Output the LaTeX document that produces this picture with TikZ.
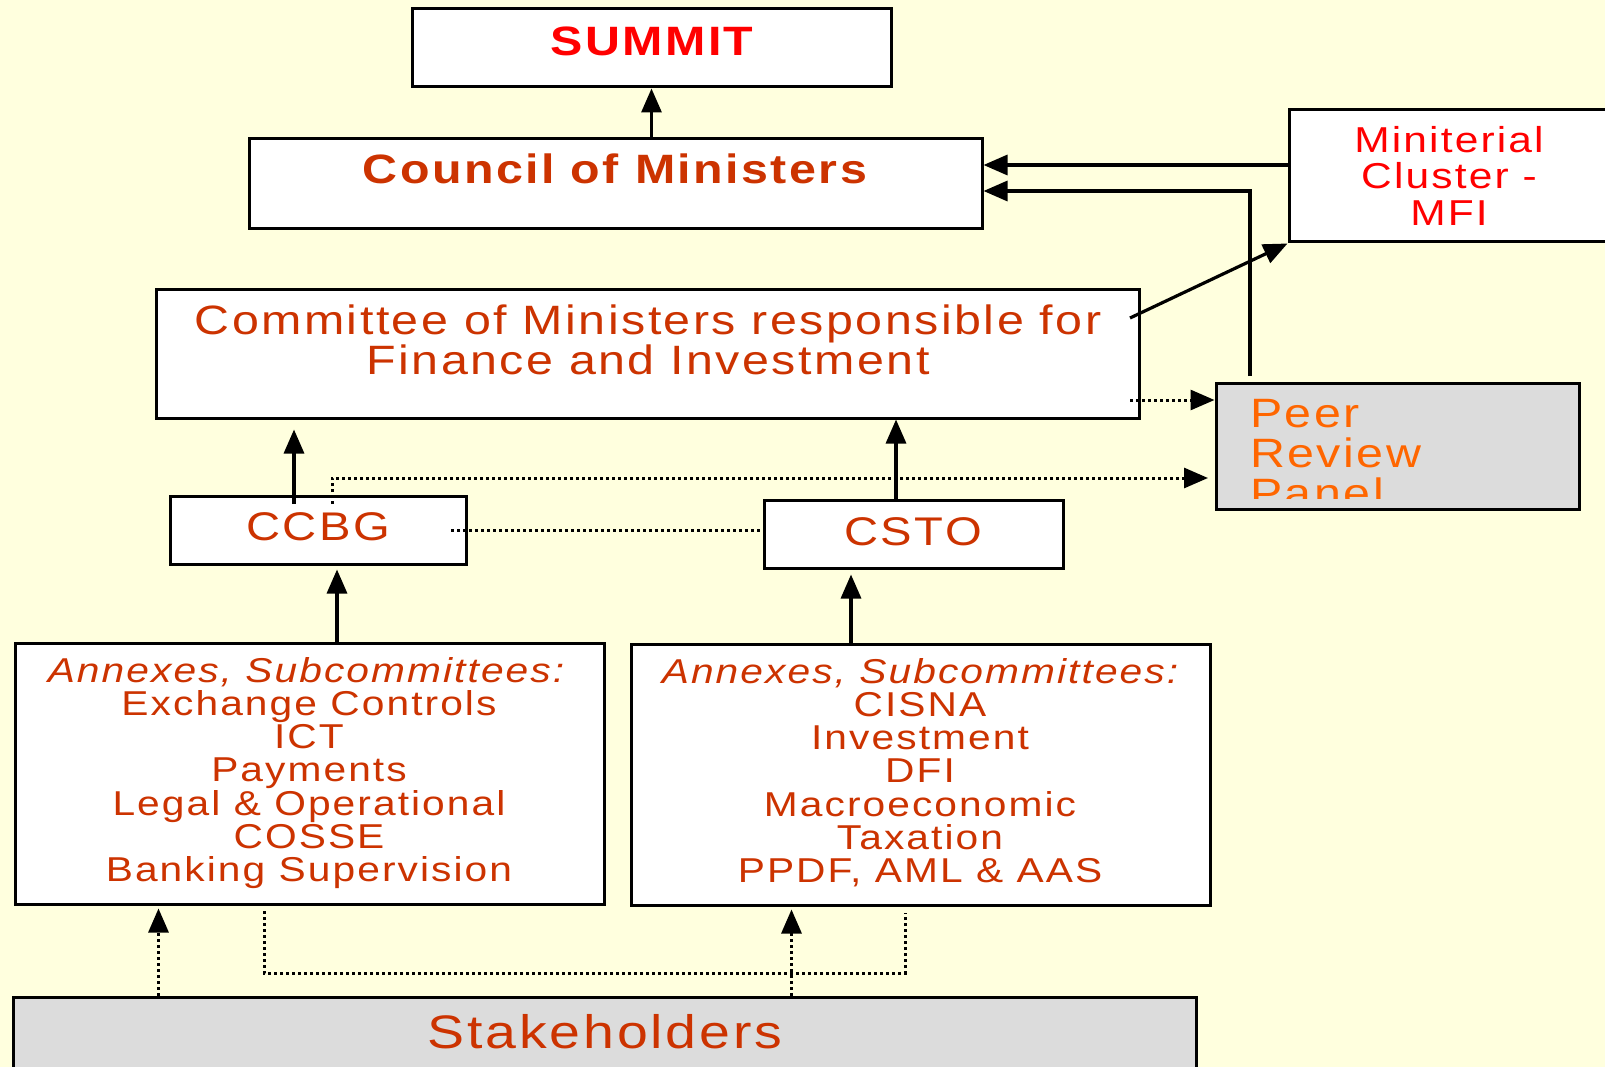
\documentclass[tikz,border=0pt]{standalone}
\usepackage{fontspec}
\newfontfamily\wide[FakeStretch=1.18,LetterSpace=6]{Liberation Sans}
\usetikzlibrary{arrows.meta,fit}

\definecolor{bgyellow}{HTML}{FFFFDE}
\definecolor{rust}{HTML}{CC3300}
\definecolor{peerorange}{HTML}{FF6600}
\definecolor{panelgray}{HTML}{DCDCDC}

\newcommand{\bigfont}{\wide\fontsize{41}{48}\selectfont}
\newcommand{\annexfont}{\wide\fontsize{34.5}{40}\selectfont}

\tikzset{
  box/.style={draw=black, line width=3pt, fill=white, inner sep=0pt},
  graybox/.style={box, fill=panelgray},
  txt/.style={inner sep=0pt, anchor=base},
  arr/.style={line width=3.2pt, -{Triangle[length=24pt,width=20pt]}},
  dline/.style={line width=3pt, dash pattern=on 3pt off 3pt},
  darr/.style={dline, -{Triangle[length=24pt,width=20pt]}},
}

\begin{document}
\begin{tikzpicture}[x=1pt,y=-1pt]
\fill[bgyellow] (0,0) rectangle (1605,1067);
\useasboundingbox (0,0) rectangle (1605,1067);

% boxes
\node[box, fit={(412,9) (891,87)}] (summit) {};
\node[box, fit={(249,139) (982,229)}] (council) {};
\node[box, fit={(1289,110) (1625,242)}] (cluster) {};
\node[box, fit={(156,289) (1139,418)}] (committee) {};
\node[graybox, fit={(1216,383) (1579,509)}] (peer) {};
\node[box, fit={(170,496) (466,564)}] (ccbg) {};
\node[box, fit={(764,500) (1063,568)}] (csto) {};
\node[box, fit={(15,643) (604,904)}] (annexl) {};
\node[box, fit={(631,644) (1210,905)}] (annexr) {};
\node[graybox, fit={(13,997) (1196,1090)}] (stake) {};

% texts
\node[txt, font=\bigfont\bfseries, text=red] at (652,56) {SUMMIT};
\node[txt, font=\bigfont\bfseries, text=rust] at (615,184) {Council of Ministers};
\foreach \line [count=\i] in {Miniterial,Cluster -,MFI}
  \node[txt, font=\wide\fontsize{36}{40}\selectfont, text=red] at (1449,116+36.5*\i) {\line};
\foreach \line [count=\i] in {Committee of Ministers responsible for,Finance and Investment}
  \node[txt, font=\bigfont, text=rust] at (648,294+40*\i) {\line};
\begin{scope}
  \clip (peer.north west) rectangle (1579,498);
  \foreach \line [count=\i] in {Peer,Review,Panel}
    \node[txt, anchor=base west, font=\bigfont, text=peerorange] at (1250,387+40*\i) {\line};
\end{scope}
\node[txt, font=\wide\fontsize{40}{48}\selectfont, text=rust] at (318,540) {CCBG};
\node[txt, font=\wide\fontsize{40}{48}\selectfont, text=rust] at (913,545) {CSTO};

\node[txt, font=\annexfont\itshape, text=rust] at (306,682) {Annexes, Subcommittees:};
\foreach \entry [count=\i] in {Exchange Controls,ICT,Payments,Legal \& Operational,COSSE,Banking Supervision}
  \node[txt, font=\annexfont, text=rust] at (309,682+33.3*\i) {\entry};
\node[txt, font=\annexfont\itshape, text=rust] at (920,683) {Annexes, Subcommittees:};
\foreach \entry [count=\i] in {CISNA,Investment,DFI,Macroeconomic,Taxation,{PPDF, AML \& AAS}}
  \node[txt, font=\annexfont, text=rust] at (920,683+33.3*\i) {\entry};

\node[txt, font=\wide\fontsize{47}{54}\selectfont, text=rust] at (605,1048) {Stakeholders};

% free ends
\coordinate (upper) at (0,165);
\coordinate (lower) at (0,191);
\coordinate (peerup) at (1250,376);
\coordinate (cmtout) at (1130,318);
\coordinate (cmtdot) at (1130,400);
\coordinate (ccbgdot) at (332,504);
\coordinate (peerin) at (1208,478);
\coordinate (ccbgup) at (294,504);
\coordinate (midrow) at (451,530);
\coordinate (linkl) at (264,911);
\coordinate (linkr) at (905,913);

% connectors
\draw[arr] (council.north -| summit.south) -- (summit.south);
\draw[arr] (cluster.west |- upper) -- (council.east |- upper);
\draw[arr] (peerup) |- (council.east |- lower);
\draw[arr] (cmtout) -- (cluster.south west);
\draw[darr] (cmtdot) -- (peer.west |- cmtdot);
\draw[darr] (ccbgdot) |- (peerin);
\draw[arr] (ccbgup) -- ([yshift=-10pt]ccbgup |- committee.south);
\draw[arr] ([xshift=-17.5pt]csto.north) -- ([xshift=-17.5pt]csto.north |- committee.south);
\draw[dline] (midrow) -- (csto.west |- midrow);
\draw[arr] ([xshift=27.5pt]annexl.north) -- ([xshift=27.5pt,yshift=-4pt]annexl.north |- ccbg.south);
\draw[arr] ([xshift=-69.5pt]annexr.north) -- ([xshift=-69.5pt,yshift=-5pt]annexr.north |- csto.south);
\draw[darr] ([xshift=147pt]stake.north west) -- ([xshift=147pt,yshift=-3pt]stake.north west |- annexl.south);
\draw[darr] ([xshift=780pt]stake.north west) -- ([xshift=780pt,yshift=-3pt]stake.north west |- annexr.south);
\draw[dline] (linkl) -- ++(0,62) -| (linkr);
\end{tikzpicture}
\end{document}
